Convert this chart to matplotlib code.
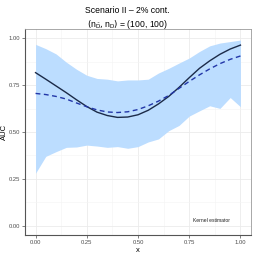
import matplotlib
matplotlib.use("Agg")
import matplotlib.pyplot as plt
from matplotlib.ticker import MultipleLocator

plt.rcParams['font.family'] = ['Liberation Sans', 'DejaVu Sans']

# grid of x values used for the band and curves
x = [0.00, 0.05, 0.10, 0.15, 0.20, 0.25, 0.30, 0.35, 0.40, 0.45, 0.50,
     0.55, 0.60, 0.65, 0.70, 0.75, 0.80, 0.85, 0.90, 0.95, 1.00]

band_upper = [0.968, 0.945, 0.917, 0.873, 0.835, 0.803, 0.786, 0.782, 0.773, 0.778, 0.778,
              0.782, 0.815, 0.840, 0.868, 0.895, 0.930, 0.960, 0.975, 0.983, 0.991]
band_lower = [0.280, 0.370, 0.395, 0.418, 0.420, 0.430, 0.425, 0.418, 0.422, 0.413, 0.422,
              0.447, 0.463, 0.507, 0.535, 0.585, 0.613, 0.640, 0.626, 0.684, 0.635]

true_auc = [0.817, 0.782, 0.746, 0.710, 0.672, 0.636, 0.606, 0.588, 0.578, 0.580, 0.592,
            0.616, 0.650, 0.690, 0.738, 0.790, 0.840, 0.880, 0.915, 0.943, 0.964]
kernel_mean = [0.706, 0.700, 0.690, 0.676, 0.655, 0.635, 0.618, 0.607, 0.604, 0.608, 0.620,
               0.640, 0.665, 0.695, 0.733, 0.770, 0.805, 0.837, 0.865, 0.888, 0.906]

tick_values = [0.00, 0.25, 0.50, 0.75, 1.00]
tick_labels = ['0.00', '0.25', '0.50', '0.75', '1.00']

fig = plt.figure(figsize=(2.54, 2.54), dpi=100)
ax = fig.add_axes([0.0996, 0.0748, 0.8874, 0.8110])

ax.fill_between(x, band_lower, band_upper, color='#BCDDFF', linewidth=0, zorder=2)
ax.plot(x, true_auc, color='#1B2A48', linewidth=1.0, zorder=3)
ax.plot(x, kernel_mean, color='#2236A8', linewidth=1.0, linestyle=(0, (3.5, 2.5)), zorder=3)

ax.text(0.86, 0.03, 'Kernel estimator', fontsize=3.6, ha='center', va='center', color='#222222')

ax.set_xlim(-0.05, 1.05)
ax.set_ylim(-0.05, 1.05)
ax.set_xticks(tick_values)
ax.set_xticklabels(tick_labels)
ax.set_yticks(tick_values)
ax.set_yticklabels(tick_labels)
ax.xaxis.set_minor_locator(MultipleLocator(0.125))
ax.yaxis.set_minor_locator(MultipleLocator(0.125))
ax.grid(which='major', color='#EBEBEB', linewidth=0.6, zorder=0)
ax.grid(which='minor', color='#F4F4F4', linewidth=0.4, zorder=0)
ax.set_axisbelow(True)
ax.tick_params(which='major', labelsize=4.2, colors='#4D4D4D', length=2, width=0.5, pad=1.5)
ax.tick_params(which='minor', length=0)
for side in ['top', 'right']:
    ax.spines[side].set_color('#9A9A9A')
    ax.spines[side].set_linewidth(0.6)
for side in ['left', 'bottom']:
    ax.spines[side].set_color('#555555')
    ax.spines[side].set_linewidth(0.8)

ax.set_xlabel('x', fontsize=5.5)
ax.set_ylabel('AUC', fontsize=5.5)
ax.xaxis.set_label_coords(0.5, -0.058)
ax.yaxis.set_label_coords(-0.076, 0.5)

fig.text(0.5, 0.957, 'Scenario II \u2013 2% cont.', ha='center', va='center', fontsize=6.2)
fig.text(0.5, 0.903, r'$(\mathregular{n}_{\bar{\mathregular{D}}}, \mathregular{n}_{\mathregular{D}})$ = (100, 100)',
         ha='center', va='center', fontsize=6.2)

fig.savefig('out.png', dpi=100)
